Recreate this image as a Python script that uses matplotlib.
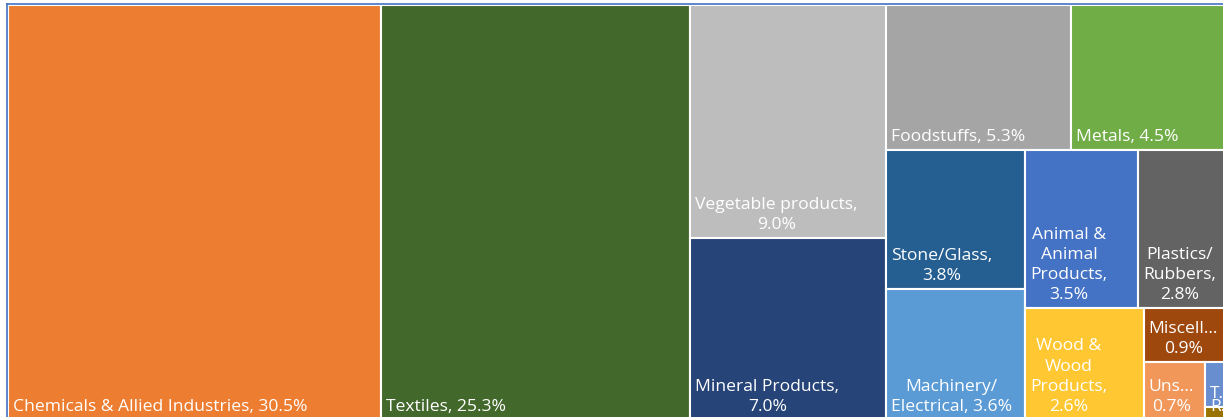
import matplotlib
matplotlib.use("Agg")
import matplotlib.pyplot as plt
from matplotlib.patches import Rectangle
from matplotlib.lines import Line2D

# share of exports by product group, largest first
values = [30.5, 25.3, 9.0, 7.0, 5.3, 4.5, 3.8, 3.6, 3.5, 2.8, 2.6, 0.9, 0.7, 0.2, 0.06]
label_fmt = [
    "Chemicals & Allied Industries, {}",
    "Textiles, {}",
    "Vegetable products,\n{}",
    "Mineral Products,\n{}",
    "Foodstuffs, {}",
    "Metals, {}",
    "Stone/Glass,\n{}",
    "Machinery/\nElectrical, {}",
    "Animal &\nAnimal\nProducts,\n{}",
    "Plastics/\nRubbers,\n{}",
    "Wood &\nWood\nProducts,\n{}",
    "Miscell...\n{}",
    "Uns...\n{}",
    "T...",
    "R...",
]
colors = [
    "#ED7D31", "#43682B", "#BDBDBD", "#264478", "#A5A5A5", "#70AD47",
    "#255E91", "#5B9BD5", "#4472C4", "#636363", "#FFC832", "#9E480E",
    "#F1975A", "#698ED0", "#997300",
]


def worst(row, side):
    s = sum(row)
    return max(max(side * side * r / (s * s), s * s / (side * side * r)) for r in row)


def squarify(areas, x, y, dx, dy):
    rects = []
    areas = list(areas)
    while areas:
        side = min(dx, dy)
        row = [areas.pop(0)]
        while areas and worst(row + [areas[0]], side) <= worst(row, side):
            row.append(areas.pop(0))
        s = sum(row)
        if dx >= dy:
            cw = s / dy
            yy = y
            for a in row:
                rects.append((x, yy, cw, a / cw))
                yy += a / cw
            x += cw
            dx -= cw
        else:
            rh = s / dx
            xx = x
            for a in row:
                rects.append((xx, y, a / rh, rh))
                xx += a / rh
            y += rh
            dy -= rh
    return rects


fig = plt.figure(figsize=(12.23, 4.17), dpi=100)
W, H = 1220.0, 415.0
ax = fig.add_axes([8 / 1223, -3 / 417, W / 1223, H / 417])
ax.set_xlim(0, W)
ax.set_ylim(H, 0)
ax.axis("off")

total = sum(values)
areas = [v / total * W * H for v in values]
rects = squarify(areas, 0, 0, W, H)

for (x, y, w, h), v, fmt, c in zip(rects, values, label_fmt, colors):
    ax.add_patch(Rectangle((x, y), w, h, facecolor=c, edgecolor="white", linewidth=1.5))
    ax.annotate(fmt.format(f"{v:.1f}%"), xy=(x, y + h), xytext=(3.6, 3.6),
                textcoords="offset points", ha="left", va="bottom",
                multialignment="center", color="white", fontsize=12.6,
                family="Open Sans", linespacing=1.35)

# chart frame along the top and left edge
blue = "#4472C4"
fig.add_artist(Line2D([7 / 1223, 7 / 1223], [0, 1 - 3.5 / 417], color=blue,
                      linewidth=1.2, transform=fig.transFigure))
fig.add_artist(Line2D([7 / 1223, 1], [1 - 3.5 / 417, 1 - 3.5 / 417], color=blue,
                      linewidth=1.2, transform=fig.transFigure))

fig.savefig("out.png", dpi=100)
